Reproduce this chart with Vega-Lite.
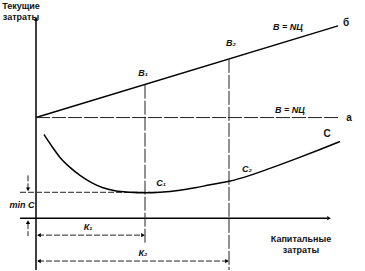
{
  "$schema": "https://vega.github.io/schema/vega-lite/v6.json",
  "width": 365,
  "height": 271,
  "autosize": {"type": "fit", "contains": "padding"},
  "padding": 0,
  "background": "white",
  "config": {"view": {"stroke": null}},
  "encoding": {
    "x": {"type": "quantitative", "scale": {"domain": [0, 365], "nice": false, "zero": false}, "axis": null},
    "y": {"type": "quantitative", "scale": {"domain": [0, 271], "nice": false, "zero": false, "reverse": true}, "axis": null}
  },
  "layer": [
    {
      "data": {"values": [
        {"name": "y-axis", "x": 36, "y": 20, "x2": 36, "y2": 271},
        {"name": "x-axis", "x": 20, "y": 219, "x2": 327, "y2": 219},
        {"name": "b", "x": 36, "y": 118, "x2": 338, "y2": 26}
      ]},
      "mark": {"type": "rule", "color": "black", "strokeWidth": 1.5},
      "encoding": {"x": {"field": "x"}, "y": {"field": "y"}, "x2": {"field": "x2"}, "y2": {"field": "y2"}}
    },
    {
      "data": {"values": [
        {"name": "a", "x": 36, "y": 118, "x2": 339, "y2": 118},
        {"name": "B1", "x": 145, "y": 85, "x2": 145, "y2": 244},
        {"name": "B2", "x": 229, "y": 59, "x2": 229, "y2": 271}
      ]},
      "mark": {"type": "rule", "color": "#222", "strokeWidth": 1, "strokeDash": [14, 2]},
      "encoding": {"x": {"field": "x"}, "y": {"field": "y"}, "x2": {"field": "x2"}, "y2": {"field": "y2"}}
    },
    {
      "data": {"values": [
        {"name": "minC", "x": 20, "y": 193, "x2": 150, "y2": 193},
        {"name": "K1", "x": 38, "y": 236, "x2": 143, "y2": 236},
        {"name": "K2", "x": 38, "y": 262, "x2": 227, "y2": 262},
        {"name": "m1", "x": 28, "y": 176, "x2": 28, "y2": 190},
        {"name": "m2", "x": 28, "y": 224, "x2": 28, "y2": 237}
      ]},
      "mark": {"type": "rule", "color": "#222", "strokeWidth": 1, "strokeDash": [6, 2]},
      "encoding": {"x": {"field": "x"}, "y": {"field": "y"}, "x2": {"field": "x2"}, "y2": {"field": "y2"}}
    },
    {
      "data": {"values": [
        {"x": 44, "y": 135}, {"x": 52, "y": 147}, {"x": 60, "y": 158}, {"x": 70, "y": 168},
        {"x": 80, "y": 176}, {"x": 92, "y": 183.5}, {"x": 103, "y": 188.5}, {"x": 115, "y": 191.5},
        {"x": 130, "y": 193}, {"x": 145, "y": 193.5}, {"x": 160, "y": 193}, {"x": 180, "y": 191},
        {"x": 195, "y": 188.5}, {"x": 210, "y": 185.5}, {"x": 229, "y": 182}, {"x": 250, "y": 176},
        {"x": 270, "y": 169}, {"x": 297, "y": 159}, {"x": 320, "y": 150}, {"x": 340, "y": 142}
      ]},
      "mark": {"type": "line", "color": "black", "strokeWidth": 1.5, "interpolate": "monotone"},
      "encoding": {"x": {"field": "x"}, "y": {"field": "y"}, "order": {"field": "x"}}
    },
    {
      "data": {"values": [
        {"x": 36, "y": 19, "dir": "up"},
        {"x": 329, "y": 219, "dir": "right"},
        {"x": 39, "y": 236, "dir": "left"},
        {"x": 143, "y": 236, "dir": "right"},
        {"x": 39, "y": 262, "dir": "left"},
        {"x": 227, "y": 262, "dir": "right"},
        {"x": 28, "y": 190, "dir": "down"},
        {"x": 28, "y": 223, "dir": "up"}
      ]},
      "mark": {"type": "point", "filled": true, "color": "black", "size": 18, "opacity": 1},
      "encoding": {
        "x": {"field": "x"}, "y": {"field": "y"},
        "shape": {"field": "dir", "type": "nominal", "legend": null,
          "scale": {"domain": ["up", "down", "left", "right"], "range": ["triangle-up", "triangle-down", "triangle-left", "triangle-right"]}}
      }
    },
    {
      "data": {"values": [
        {"t": "Текущие", "x": 21, "y": 6},
        {"t": "затраты", "x": 21, "y": 17},
        {"t": "Капитальные", "x": 301, "y": 240},
        {"t": "затраты", "x": 301, "y": 251}
      ]},
      "mark": {"type": "text", "font": "Liberation Sans", "fontSize": 9, "fontWeight": "bold", "color": "#111", "align": "center", "baseline": "middle"},
      "encoding": {"x": {"field": "x"}, "y": {"field": "y"}, "text": {"field": "t"}}
    },
    {
      "data": {"values": [
        {"t": "В = NЦ", "x": 288, "y": 27},
        {"t": "В = NЦ", "x": 290, "y": 110},
        {"t": "В₁", "x": 143, "y": 73},
        {"t": "В₂", "x": 231, "y": 43},
        {"t": "С₁", "x": 161, "y": 184},
        {"t": "С₂", "x": 247, "y": 170},
        {"t": "min C", "x": 22, "y": 206},
        {"t": "К₁", "x": 88, "y": 228},
        {"t": "К₂", "x": 143, "y": 254}
      ]},
      "mark": {"type": "text", "font": "Liberation Sans", "fontSize": 9, "fontStyle": "italic", "fontWeight": "bold", "color": "#111", "align": "center", "baseline": "middle"},
      "encoding": {"x": {"field": "x"}, "y": {"field": "y"}, "text": {"field": "t"}}
    },
    {
      "data": {"values": [
        {"t": "б", "x": 346, "y": 23},
        {"t": "а", "x": 349, "y": 118},
        {"t": "С", "x": 327, "y": 134}
      ]},
      "mark": {"type": "text", "font": "Liberation Sans", "fontSize": 10, "fontWeight": "bold", "color": "#111", "align": "center", "baseline": "middle"},
      "encoding": {"x": {"field": "x"}, "y": {"field": "y"}, "text": {"field": "t"}}
    }
  ]
}
